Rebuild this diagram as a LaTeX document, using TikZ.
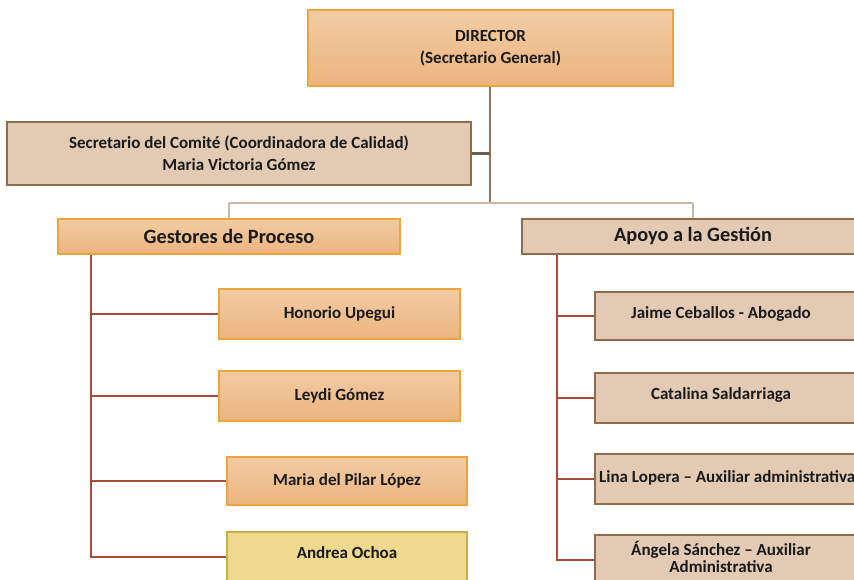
\documentclass[tikz,border=0pt]{standalone}
\usepackage{fontspec}
\setmainfont{Carlito}
\usetikzlibrary{calc}
\definecolor{ofillT}{HTML}{F2CCA4}
\definecolor{ofillB}{HTML}{ECB47E}
\definecolor{odraw}{HTML}{EEA43C}
\definecolor{tfill}{HTML}{E3CAB4}
\definecolor{tdraw}{HTML}{8E6C4C}
\definecolor{yfill}{HTML}{EFD98E}
\definecolor{ydraw}{HTML}{C8B048}
\definecolor{trunk}{HTML}{8C7460}
\definecolor{hbar}{HTML}{C9B9A9}
\definecolor{branch}{HTML}{A84C38}
\definecolor{txt}{HTML}{1A1A1A}
\tikzset{
  obox/.style={draw=odraw, line width=1.5pt, top color=ofillT, bottom color=ofillB, minimum width=#1, rectangle, inner sep=0pt, text=txt, align=center},
  tbox/.style={draw=tdraw, line width=1.5pt, fill=tfill, minimum width=#1, rectangle, inner sep=0pt, text=txt, align=center},
  ybox/.style={draw=ydraw, line width=1.5pt, fill=yfill, minimum width=#1, rectangle, inner sep=0pt, text=txt, align=center},
  lbl/.style={text=txt, inner sep=0pt, align=center},
  small/.style={font=\fontsize{17}{22}\selectfont\bfseries},
  head/.style={font=\fontsize{20.3}{23}\selectfont\bfseries},
  trunkline/.style={draw=trunk, line width=2pt},
  hline/.style={draw=hbar, line width=2.2pt},
  brline/.style={draw=branch, line width=2pt},
}
\begin{document}
\begin{tikzpicture}[x=1pt,y=-1pt]
\useasboundingbox (0,0) rectangle (854,580);
\fill[white] (0,0) rectangle (854,580);
% top level
\node[obox=365pt, minimum height=76pt, small] (dir) at (490.5,48) {DIRECTOR\\(Secretario General)};
\node[tbox=464pt, minimum height=63pt, small] (sec) at (239,153.5) {Secretario del Comité (Coordinadora de Calidad)\\Maria Victoria Gómez};
\node[obox=342pt, minimum height=35pt, head] (gest) at (229,236.5) {Gestores de Proceso};
\node[tbox=358pt, minimum height=35pt] (apoyo) at (701,236.5) {};
\node[lbl, head] (apoyoT) at (693,236) {Apoyo a la Gestión};
% left column
\node[obox=241pt, minimum height=50pt, small] (hon) at (339.5,314) {Honorio Upegui};
\node[obox=241pt, minimum height=50pt, small] (ley) at (339.5,396) {Leydi Gómez};
\node[obox=240pt, minimum height=48pt, small] (mar) at (347,481) {Maria del Pilar López};
\node[ybox=240pt, minimum height=50pt] (and) at (347,557) {};
\node[lbl, small] (andT) at (347,553) {Andrea Ochoa};
% right column
\node[tbox=285pt, minimum height=48pt] (jai) at (737.5,316) {};
\node[lbl, small] (jaiT) at (721,314) {Jaime Ceballos - Abogado};
\node[tbox=285pt, minimum height=50pt] (cat) at (737.5,398) {};
\node[lbl, small] (catT) at (721,395) {Catalina Saldarriaga};
\node[tbox=285pt, minimum height=50pt] (lin) at (737.5,479) {};
\node[lbl, small, anchor=west] (linT) at (599,478) {Lina Lopera – Auxiliar administrativa};
\node[tbox=285pt, minimum height=50pt] (ang) at (737.5,560) {};
\node[lbl, font=\fontsize{17}{17}\selectfont\bfseries] (angT) at (721,557) {Ángela Sánchez – Auxiliar\\Administrativa};
% connectors top
\coordinate (tj) at ($(dir.south)+(-1,0)$);
\coordinate (hj) at (tj |- 0,203);
\draw[trunkline] (tj) -- (hj);
\draw[draw=trunk!80!black, line width=2.4pt] (sec.east) -- (sec.east -| tj);
\draw[hline] (gest.north |- hj) -- (apoyoT.north |- hj);
\draw[hline] (gest.north |- hj) -- (gest.north);
\draw[hline] (apoyoT.north |- hj) -- (apoyoT.north |- apoyo.north);
% left branches
\coordinate (lv) at ($(gest.south west)+(34,0)$);
\draw[brline] (lv) -- (lv |- and.west) -- (and.west);
\foreach \n in {hon,ley,mar} \draw[brline] (lv |- \n.west) -- (\n.west);
% right branches
\coordinate (rv) at ($(apoyo.south west)+(36,0)$);
\draw[brline] (rv) -- (rv |- ang.west) -- (ang.west);
\foreach \n in {jai,cat,lin} \draw[brline] (rv |- \n.west) -- (\n.west);
\end{tikzpicture}
\end{document}
